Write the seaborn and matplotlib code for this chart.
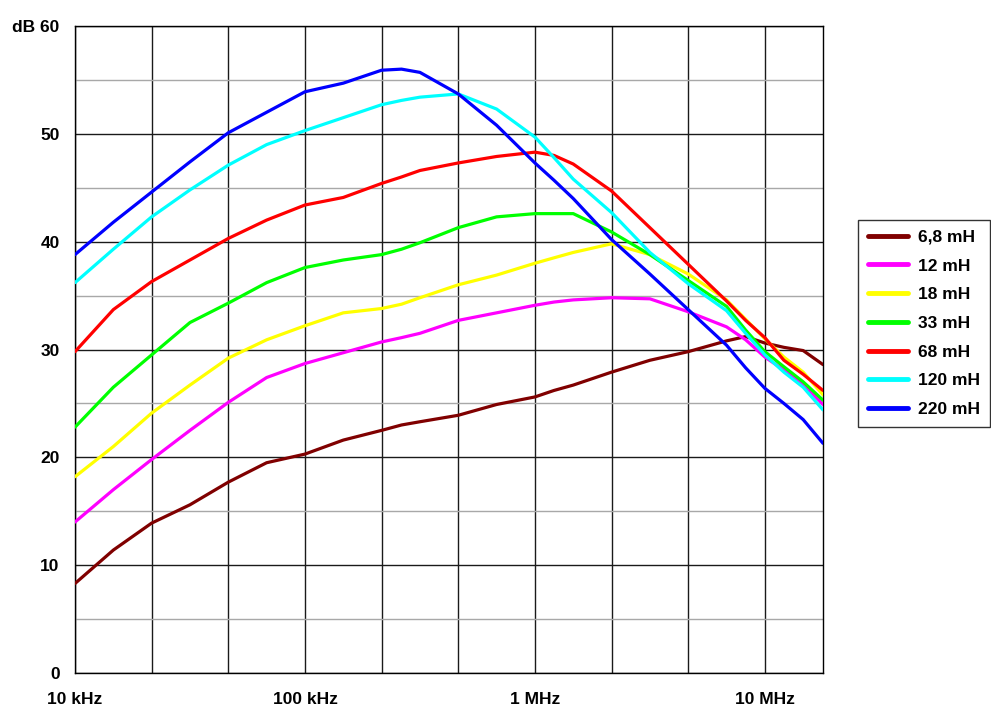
import numpy as np
import pandas as pd
import matplotlib
matplotlib.use("Agg")
import matplotlib.pyplot as plt
import seaborn as sns
from matplotlib.ticker import FixedLocator, NullFormatter

# ---- data (frequency in kHz, level in dB) ----
freq_khz = [10, 14.68, 21.54, 31.62, 46.42, 68.13, 100, 146.8, 215.4, 263, 316.2,
            464.2, 681.3, 1000, 1210, 1468, 2154, 3162, 4642, 6813, 8250, 10000,
            12100, 14678, 17900]

series_names = ["6,8 mH", "12 mH", "18 mH", "33 mH", "68 mH", "120 mH", "220 mH"]

db_6_8mH = [8.3, 11.4, 13.9, 15.6, 17.7, 19.5, 20.3, 21.6, 22.5, 23.0, 23.3,
            23.9, 24.9, 25.6, 26.2, 26.7, 27.9, 29.0, 29.8, 30.8, 31.2, 30.6,
            30.2, 29.9, 28.6]
db_12mH = [14.0, 17.0, 19.8, 22.5, 25.1, 27.4, 28.7, 29.7, 30.7, 31.1, 31.5,
           32.7, 33.4, 34.1, 34.4, 34.6, 34.8, 34.7, 33.5, 32.1, 30.9, 29.3,
           28.1, 26.8, 24.9]
db_18mH = [18.2, 21.0, 24.1, 26.7, 29.2, 30.9, 32.2, 33.4, 33.8, 34.2, 34.8,
           36.0, 36.9, 38.0, 38.5, 39.0, 39.8, 38.8, 37.0, 34.6, 32.8, 31.0,
           29.3, 27.9, 25.8]
db_33mH = [22.8, 26.5, 29.5, 32.5, 34.3, 36.2, 37.6, 38.3, 38.8, 39.3, 39.9,
           41.3, 42.3, 42.6, 42.6, 42.6, 40.9, 38.8, 36.4, 34.0, 31.8, 29.8,
           28.4, 27.0, 25.3]
db_68mH = [29.8, 33.7, 36.3, 38.3, 40.3, 42.0, 43.4, 44.1, 45.4, 46.0, 46.6,
           47.3, 47.9, 48.3, 48.0, 47.2, 44.7, 41.3, 37.9, 34.5, 32.7, 31.1,
           29.0, 27.7, 26.2]
db_120mH = [36.2, 39.3, 42.3, 44.8, 47.1, 49.0, 50.3, 51.5, 52.7, 53.1, 53.4,
            53.7, 52.3, 49.7, 47.8, 45.8, 42.7, 39.0, 36.1, 33.6, 31.5, 29.5,
            27.9, 26.5, 24.4]
db_220mH = [38.8, 41.8, 44.6, 47.4, 50.1, 52.0, 53.9, 54.7, 55.9, 56.0, 55.7,
            53.7, 50.8, 47.3, 45.7, 44.0, 40.2, 37.0, 33.7, 30.4, 28.3, 26.4,
            25.0, 23.5, 21.3]

series_values = [db_6_8mH, db_12mH, db_18mH, db_33mH, db_68mH, db_120mH, db_220mH]
colors = ["#800000", "#FF00FF", "#FFFF00", "#00FF00", "#FF0000", "#00FFFF", "#0000FF"]

x_tick_khz = [10, 100, 1000, 10000]
x_tick_labels = ["10 kHz", "100 kHz", "1 MHz", "10 MHz"]
y_ticks = [0, 10, 20, 30, 40, 50, 60]
y_tick_labels = ["0", "10", "20", "30", "40", "50", "dB 60"]

# ---- build long-form table ----
rows = []
for name, vals in zip(series_names, series_values):
    for f, v in zip(freq_khz, vals):
        rows.append({"freq": f * 1e3, "dB": v, "series": name})
df = pd.DataFrame(rows)

sns.set_style("white")
plt.rcParams["font.family"] = ["Liberation Sans", "DejaVu Sans"]
plt.rcParams["font.weight"] = "bold"
plt.rcParams["text.color"] = "black"
plt.rcParams["xtick.color"] = "black"
plt.rcParams["ytick.color"] = "black"
plt.rcParams["xtick.labelcolor"] = "black"
plt.rcParams["ytick.labelcolor"] = "black"

W, H = 991, 709
fig = plt.figure(figsize=(W / 100, H / 100), dpi=100)
fig.patch.set_facecolor("white")
ax = fig.add_axes([75 / W, (H - 673) / H, (823 - 75) / W, (673 - 26) / H])

sns.lineplot(data=df, x="freq", y="dB", hue="series", hue_order=series_names,
             palette=colors, linewidth=2.3, ax=ax, legend=False, sort=False,
             zorder=3)

ax.set_xscale("log")
ax.set_xlim(10e3, 17.9e6)
ax.set_ylim(0, 60)

# grid lines
vgrid = [10e3 * 10 ** (n / 3) for n in range(0, 10)]
minor_v = [v for i, v in enumerate(vgrid) if i % 3 != 0]
ax.xaxis.set_major_locator(FixedLocator([k * 1e3 for k in x_tick_khz]))
ax.set_xticklabels(x_tick_labels)
ax.xaxis.set_minor_locator(FixedLocator(minor_v))
ax.xaxis.set_minor_formatter(NullFormatter())
ax.set_yticks(y_ticks)
ax.set_yticklabels(y_tick_labels)
ax.yaxis.set_minor_locator(FixedLocator([5, 15, 25, 35, 45, 55]))

ax.grid(True, which="major", axis="both", color="#1a1a1a", linewidth=1.0, zorder=1)
ax.grid(True, which="minor", axis="x", color="#1a1a1a", linewidth=1.0, zorder=1)
ax.grid(True, which="minor", axis="y", color="#a8a8a8", linewidth=1.0, zorder=1)
ax.set_axisbelow(True)

ax.tick_params(axis="x", which="both", direction="out", length=6, width=1,
               color="black", pad=8, labelsize=12.5, labelcolor="black")
ax.tick_params(axis="y", which="major", direction="out", length=6, width=1,
               color="black", pad=5, labelsize=12.5, labelcolor="black")
ax.tick_params(axis="y", which="minor", length=0)
for lab in ax.get_xticklabels() + ax.get_yticklabels():
    lab.set_fontweight("bold")
    lab.set_color("black")

for sp in ax.spines.values():
    sp.set_visible(True)
    sp.set_color("black")
    sp.set_linewidth(1.0)

ax.set_xlabel("")
ax.set_ylabel("")

handles = [matplotlib.lines.Line2D([], [], color=c, linewidth=3.5) for c in colors]
leg = fig.legend(handles, series_names, loc="upper left",
                 bbox_to_anchor=(858 / W, 1 - 220 / H), borderaxespad=0,
                 frameon=True, fancybox=False, shadow=False,
                 prop={"family": "Liberation Sans", "weight": "bold", "size": 12.5},
                 handlelength=2.3, handletextpad=0.6, labelspacing=0.78,
                 borderpad=0.56)
leg.get_frame().set_edgecolor("black")
leg.get_frame().set_linewidth(1.0)
for t in leg.get_texts():
    t.set_color("black")

fig.savefig("out.png", dpi=100, facecolor="white")
